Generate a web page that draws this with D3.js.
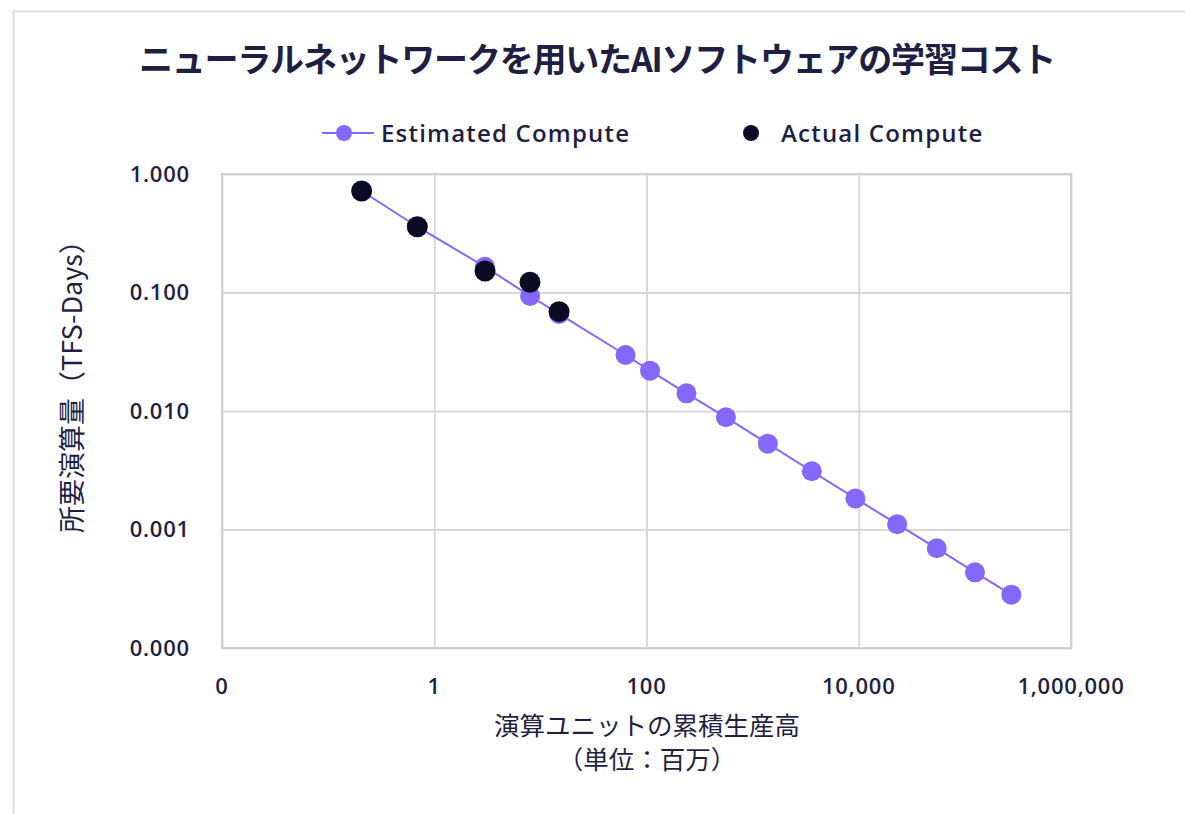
<!DOCTYPE html>
<html>
<head>
<meta charset="utf-8">
<script src="https://cdn.jsdelivr.net/npm/d3@7"></script>
<style>
  html, body { margin: 0; padding: 0; background: #fff; }
  svg { display: block; }
</style>
</head>
<body>
<svg id="chart" width="1185" height="814"></svg>
<script>
// ---- data ----
const estimatedX = [0.207, 0.692, 3.0, 8.0, 15.0, 63.4, 108, 238, 560, 1390, 3610, 9300, 23000, 54300, 124500, 274000];
const estimatedY = [0.719, 0.359, 0.165, 0.0934, 0.0659, 0.0297, 0.0219, 0.0141, 0.00885, 0.0053, 0.0031, 0.00183, 0.00111, 0.000694, 0.000435, 0.000282];
const actualX = [0.207, 0.692, 3.01, 7.98, 15.0];
const actualY = [0.719, 0.359, 0.152, 0.122, 0.0689];
const xTickValues = [0.01, 1, 100, 10000, 1000000];
const xTickLabels = ["0", "1", "100", "10,000", "1,000,000"];
const yTickValues = [1, 0.1, 0.01, 0.001, 0.0001];
const yTickLabels = ["1.000", "0.100", "0.010", "0.001", "0.000"];
const titleText = "ニューラルネットワークを用いたAIソフトウェアの学習コスト";
const seriesNames = ["Estimated Compute", "Actual Compute"];
const xTitleLines = ["演算ユニットの累積生産高", "（単位：百万）"];
const yTitleText = "所要演算量（TFS-Days）";

// ---- layout ----
const svg = d3.select("#chart");
const textColor = "#1f1f45";
const purple = "#8468fc";
const black = "#0b0b24";
const gridColor = "#d9d9d9";
const font = "'Open Sans', Lato, 'Noto Sans CJK JP', sans-serif";
const cjkFont = "'Noto Sans CJK JP', Lato, sans-serif";

const plot = { left: 222, right: 1071, top: 174, bottom: 648 };

const x = d3.scaleLog().domain([0.01, 1000000]).range([plot.left, plot.right]);
const y = d3.scaleLog().domain([0.0001, 1]).range([plot.bottom, plot.top]);

// outer frame
svg.append("rect")
  .attr("x", 13.5).attr("y", 11.5)
  .attr("width", 1185).attr("height", 814)
  .attr("fill", "none").attr("stroke", "#dcdfe5").attr("stroke-width", 2);

// title
svg.append("text")
  .attr("x", 597).attr("y", 72)
  .attr("text-anchor", "middle")
  .attr("font-family", cjkFont).attr("font-weight", 700)
  .attr("font-size", 34).attr("fill", textColor)
  .attr("letter-spacing", -1.2)
  .text(titleText);

// grid
const gx = svg.append("g").attr("transform", `translate(0,${plot.bottom})`)
  .call(d3.axisBottom(x).tickValues(xTickValues).tickSize(-(plot.bottom - plot.top)).tickFormat(""));
gx.select(".domain").remove();
gx.selectAll("line").attr("stroke", gridColor).attr("stroke-width", 2);

const gy = svg.append("g").attr("transform", `translate(${plot.left},0)`)
  .call(d3.axisLeft(y).tickValues(yTickValues).tickSize(-(plot.right - plot.left)).tickFormat(""));
gy.select(".domain").remove();
gy.selectAll("line").attr("stroke", gridColor).attr("stroke-width", 2);

svg.append("rect")
  .attr("x", plot.left).attr("y", plot.top)
  .attr("width", plot.right - plot.left).attr("height", plot.bottom - plot.top)
  .attr("fill", "none").attr("stroke", "#d0d0d0").attr("stroke-width", 2);

// tick labels
svg.append("g").selectAll("text").data(xTickValues).join("text")
  .attr("x", d => x(d)).attr("y", 694)
  .attr("text-anchor", "middle")
  .attr("font-family", font).attr("font-weight", 600).attr("font-size", 22)
  .attr("letter-spacing", 0.8)
  .attr("fill", textColor)
  .text((d, i) => xTickLabels[i]);

svg.append("g").selectAll("text").data(yTickValues).join("text")
  .attr("x", 190).attr("y", d => y(d) + 7.5)
  .attr("text-anchor", "end")
  .attr("font-family", font).attr("font-weight", 600).attr("font-size", 22)
  .attr("letter-spacing", 0.8)
  .attr("fill", textColor)
  .text((d, i) => yTickLabels[i]);

// axis titles
svg.append("text")
  .attr("text-anchor", "middle")
  .attr("font-family", cjkFont).attr("font-size", 25.5).attr("fill", textColor)
  .selectAll("tspan").data(xTitleLines).join("tspan")
  .attr("x", 647).attr("y", (d, i) => 735 + i * 34)
  .text(d => d);

svg.append("text")
  .attr("transform", "translate(82,380) rotate(-90)")
  .attr("text-anchor", "middle")
  .attr("font-family", cjkFont).attr("font-size", 27).attr("fill", textColor)
  .text(yTitleText);

// estimated line + markers
const estData = estimatedX.map((d, i) => [d, estimatedY[i]]);
const actData = actualX.map((d, i) => [d, actualY[i]]);

svg.append("path")
  .datum(estData)
  .attr("d", d3.line().x(d => x(d[0])).y(d => y(d[1])))
  .attr("fill", "none").attr("stroke", purple).attr("stroke-width", 2);

svg.append("g").selectAll("circle").data(estData).join("circle")
  .attr("cx", d => x(d[0])).attr("cy", d => y(d[1])).attr("r", 10)
  .attr("fill", purple);

svg.append("g").selectAll("circle").data(actData).join("circle")
  .attr("cx", d => x(d[0])).attr("cy", d => y(d[1])).attr("r", 10.5)
  .attr("fill", black);

// legend
const leg = svg.append("g");
leg.append("line").attr("x1", 322).attr("x2", 374).attr("y1", 133).attr("y2", 133)
  .attr("stroke", purple).attr("stroke-width", 2);
leg.append("circle").attr("cx", 344).attr("cy", 133).attr("r", 8).attr("fill", purple);
leg.append("text").attr("x", 381).attr("y", 141.5)
  .attr("font-family", font).attr("font-weight", 600).attr("font-size", 24)
  .attr("letter-spacing", 1.2).attr("fill", textColor)
  .text(seriesNames[0]);
leg.append("circle").attr("cx", 751).attr("cy", 133).attr("r", 8).attr("fill", black);
leg.append("text").attr("x", 781).attr("y", 141.5)
  .attr("font-family", font).attr("font-weight", 600).attr("font-size", 24)
  .attr("letter-spacing", 1.2).attr("fill", textColor)
  .text(seriesNames[1]);
</script>
</body>
</html>
